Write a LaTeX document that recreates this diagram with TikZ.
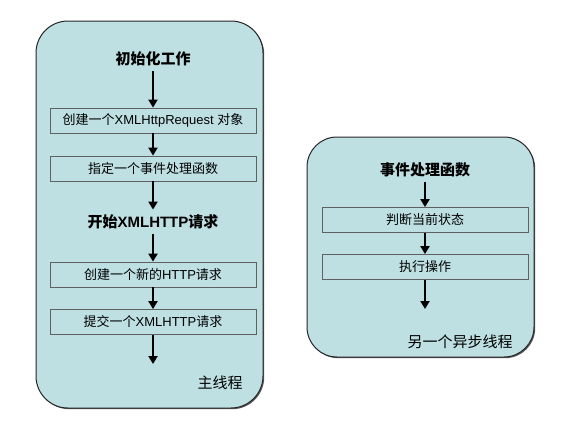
\documentclass[tikz,border=0pt]{standalone}
\usepackage{fontspec}
\setmainfont{Liberation Sans}
\newfontfamily\cjk{Noto Sans CJK SC}
\usepackage{tikz}
\usetikzlibrary{arrows.meta, shadows}
\definecolor{threadfill}{RGB}{190,224,227}
\definecolor{boxline}{RGB}{96,96,96}
\tikzstyle{thread} = [
  rectangle, draw=black!85, line width=1pt, fill=threadfill,
  drop shadow={shadow xshift=1.2pt, shadow yshift=-1.2pt, fill=black!65, opacity=1}
]
\tikzstyle{stepbox} = [
  rectangle, draw=boxline, line width=0.8pt, inner sep=0pt,
  minimum width=206pt, minimum height=25pt, font=\fontsize{13}{15}\selectfont
]
\tikzstyle{phase} = [font=\fontsize{15}{18}\selectfont\bfseries, inner sep=5pt]
\tikzstyle{tag} = [font=\fontsize{15}{18}\selectfont, inner sep=0pt]
\tikzstyle{arrow} = [-{Triangle[length=8pt, width=9pt]}, line width=2.6pt]

\begin{document}
\begin{tikzpicture}[x=1pt, y=-1pt]

  \useasboundingbox (0, 0) rectangle (567, 429);

  % the two threads
  \node[thread, rounded corners=32pt, minimum width=227pt, minimum height=387pt] (mainthr) at (149.5, 214.5) {};
  \node[thread, rounded corners=30pt, minimum width=227pt, minimum height=220pt] (asyncthr) at (420.5, 247) {};

  % main thread
  \node[phase] (init) at (153, 59) {\cjk 初始化工作};
  \node[stepbox] (newreq) at (153, 120.5) {{\cjk 创建一个}XMLHttpRequest {\cjk 对象}};
  \node[stepbox] (sethandler) at (153, 168.5) {\cjk 指定一个事件处理函数};
  \node[phase] (start) at (153, 222) {{\cjk 开始}XMLHTTP{\cjk 请求}};
  \node[stepbox] (newhttp) at (153, 274.5) {{\cjk 创建一个新的}HTTP{\cjk 请求}};
  \node[stepbox] (send) at (153, 322) {{\cjk 提交一个}XMLHTTP{\cjk 请求}};
  \coordinate (mainend) at (153, 364);
  \node[tag] (mainlbl) at (220, 383) {\cjk 主线程};

  \draw[arrow] (init) -- (newreq);
  \draw[arrow] (newreq) -- (sethandler);
  \draw[arrow] (sethandler) -- (start);
  \draw[arrow] (start) -- (newhttp);
  \draw[arrow] (newhttp) -- (send);
  \draw[arrow] (send) -- (mainend);

  % async thread
  \node[phase] (handler) at (425, 170) {\cjk 事件处理函数};
  \node[stepbox] (state) at (425, 220) {\cjk 判断当前状态};
  \node[stepbox] (run) at (425, 267) {\cjk 执行操作};
  \coordinate (asyncend) at (425, 309);
  \node[tag] (asynclbl) at (460, 342) {\cjk 另一个异步线程};

  \draw[arrow] (handler) -- (state);
  \draw[arrow] (state) -- (run);
  \draw[arrow] (run) -- (asyncend);

\end{tikzpicture}
\end{document}
